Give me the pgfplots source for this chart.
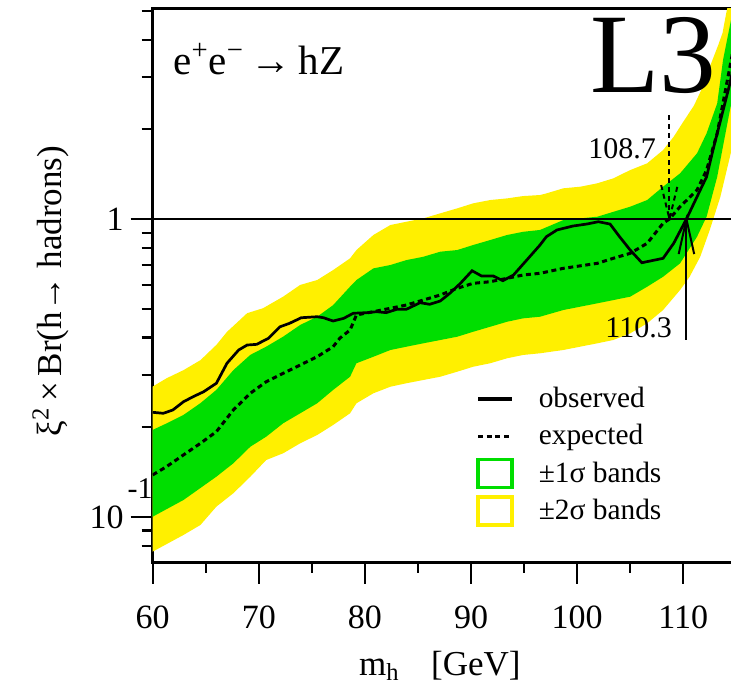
\documentclass[border=0pt]{standalone}
\usepackage{fontspec}
\setmainfont{Liberation Serif}
\usepackage{pgfplots}
\pgfplotsset{compat=1.18}
\usepgfplotslibrary{fillbetween}

\definecolor{bandgreen}{RGB}{0,222,0}
\definecolor{bandyellow}{RGB}{255,240,0}

% 95% CL upper limit on xi^2 x Br(h -> hadrons), L3
\pgfplotstableread{
x y
60.0 0.274
61.3 0.292
62.9 0.311
64.5 0.336
66.0 0.378
67.0 0.418
68.9 0.483
70.4 0.502
72.3 0.549
73.9 0.601
75.5 0.624
77.0 0.674
78.6 0.738
79.2 0.787
80.8 0.884
82.4 0.955
83.9 0.979
85.5 1.005
87.1 1.045
88.7 1.086
90.2 1.129
91.8 1.158
93.4 1.173
94.9 1.194
96.5 1.204
97.1 1.219
98.7 1.268
100.3 1.284
101.9 1.318
103.4 1.369
105.0 1.460
106.6 1.538
108.1 1.704
109.1 1.889
110.0 2.12
111.0 2.40
111.7 2.71
112.5 3.24
113.3 3.84
113.7 4.21
114.05 4.91
115.0 7.0
}\twoup

\pgfplotstableread{
x y
60.0 0.196
61.3 0.206
62.9 0.220
64.5 0.241
66.0 0.267
67.6 0.311
69.2 0.350
70.7 0.373
72.3 0.403
73.9 0.441
75.5 0.470
77.0 0.514
78.6 0.593
79.2 0.624
80.8 0.683
82.4 0.701
83.9 0.728
85.5 0.747
87.1 0.777
88.7 0.787
90.2 0.818
91.8 0.850
93.4 0.884
94.9 0.906
96.5 0.919
98.7 0.992
101.9 1.018
105.0 1.100
106.6 1.158
108.1 1.284
109.7 1.423
111.3 1.662
112.2 1.940
113.2 2.445
113.75 3.417
114.5 4.654
115.0 6.0
}\oneup

\pgfplotstableread{
x y
60.0 0.1002
62.9 0.1140
66.0 0.1365
67.6 0.1514
69.2 0.1721
70.7 0.1860
72.3 0.2063
73.9 0.2228
75.5 0.2407
77.0 0.2668
78.6 0.2956
79.2 0.3280
80.8 0.3450
82.4 0.3634
83.9 0.3727
85.5 0.3827
87.1 0.3926
88.7 0.4027
90.2 0.4184
91.8 0.4349
93.4 0.4521
94.9 0.4641
96.5 0.4700
98.7 0.4950
101.9 0.5213
105.0 0.5487
106.6 0.5927
108.1 0.640
109.7 0.7101
111.3 0.8722
112.2 1.018
113.2 1.386
113.8 1.795
114.4 2.322
115.0 2.9
}\onedown

\pgfplotstableread{
x y
60.0 0.0765
62.9 0.0870
64.5 0.0940
66.0 0.1083
67.6 0.1201
69.2 0.1365
70.7 0.1553
72.3 0.1636
73.9 0.1767
75.5 0.1884
77.0 0.2035
78.6 0.2228
79.2 0.2407
80.8 0.2601
82.4 0.2736
83.9 0.2810
85.5 0.2882
87.1 0.2956
88.7 0.3073
90.2 0.3193
91.8 0.3280
93.4 0.3409
94.9 0.3497
96.5 0.3543
98.7 0.3634
101.9 0.3827
103.4 0.3926
105.0 0.4133
106.6 0.4467
108.1 0.4950
109.7 0.5777
110.6 0.640
111.6 0.7472
112.5 0.919
113.5 1.188
114.1 1.460
114.4 1.618
115.0 2.0
}\twodown

\pgfplotstableread{
x y
60.0 0.1384
61.3 0.1475
62.9 0.1615
64.5 0.1767
66.0 0.1933
67.6 0.2286
69.2 0.2601
70.7 0.2844
72.3 0.3035
73.9 0.3236
75.5 0.3450
77.0 0.3727
77.65 0.3987
78.6 0.4240
79.2 0.4764
80.8 0.4886
82.4 0.5016
83.9 0.5144
85.5 0.5347
87.1 0.5559
88.7 0.5854
90.2 0.6084
91.8 0.6160
93.4 0.6324
94.9 0.6488
96.5 0.6574
98.7 0.6832
101.9 0.7101
103.4 0.7382
105.0 0.7673
106.6 0.8290
108.1 0.9674
108.7 1.0
109.7 1.100
111.3 1.251
112.2 1.460
113.2 1.940
113.8 2.507
114.4 3.244
115.0 4.2
}\expected

\pgfplotstableread{
x y
60.0 0.2245
61.0 0.2228
61.9 0.2286
62.9 0.2436
63.8 0.2532
64.8 0.2632
66.0 0.2810
67.0 0.3280
68.1 0.3634
68.9 0.3777
69.8 0.3797
70.9 0.3978
72.0 0.4349
72.9 0.4467
74.0 0.4663
75.5 0.4700
76.1 0.4663
77.0 0.4547
78.0 0.4641
78.6 0.4764
78.9 0.4827
80.2 0.4850
81.1 0.4886
82.0 0.4850
83.0 0.4977
83.9 0.4977
85.2 0.5238
86.1 0.5174
87.1 0.5307
88.0 0.5632
89.0 0.6084
90.1 0.6705
91.0 0.6437
92.1 0.6437
93.0 0.6208
94.0 0.6488
95.25 0.7283
96.5 0.818
97.1 0.8722
98.1 0.919
99.6 0.9473
100.9 0.9620
102.0 0.9793
103.1 0.9620
104.0 0.8722
105.0 0.787
106.1 0.7135
108.1 0.7382
109.1 0.8290
110.3 1.0
111.3 1.188
112.2 1.386
112.8 1.704
113.6 2.204
114.4 2.854
115.0 3.6
}\observed

\begin{document}
\begin{tikzpicture}
\begin{axis}[
  scale only axis,
  width=291.8pt, height=276.5pt,
  xmin=60, xmax=115,
  ymode=log, ymin=0.0706, ymax=5.07,
  axis line style={line width=1.5pt},
  every tick/.style={black, line width=1.1pt},
  tick align=outside,
  tick pos=left,
  major tick length=11pt,
  minor tick length=5.5pt,
  xtick={60,70,...,110},
  minor xtick={65,75,...,105},
  ytick={0.1,1},
  minor ytick={0.07,0.08,0.09,0.2,0.3,0.4,0.5,0.6,0.7,0.8,0.9,2,3,4,5},
  yticklabels={10\rlap{\hspace{2pt}\smash{\raisebox{15pt}{\fontsize{15}{15}\selectfont -1}}},1},
  /pgf/number format/assume math mode=true,
  tick label style={font=\fontsize{17}{20}\selectfont},
  xticklabel style={yshift=-7.5pt},
  xlabel={m\textsubscript{h}\hspace{0.9em}[GeV]},
  ylabel={ξ\textsuperscript{2}\,×\,Br(h→ hadrons)},
  every axis x label/.style={at={(axis description cs:0.492,-0.205)}, anchor=base,
    font=\fontsize{17.5}{20}\selectfont},
  every axis y label/.style={at={(axis description cs:-0.175,0.49)}, rotate=90, anchor=center,
    font=\fontsize{17.5}{20}\selectfont},
  legend style={draw=none, fill=none, at={(axis cs:89.9,0.291)}, anchor=north west,
    font=\fontsize{14.7}{17}\selectfont, row sep=3pt,
    /tikz/every odd column/.append style={column sep=10.5pt}},
  legend cell align=left,
]
% +-2 sigma and +-1 sigma bands around the expected limit
\addplot[draw=none, name path=yu, forget plot] table {\twoup};
\addplot[draw=none, name path=yl, forget plot] table {\twodown};
\addplot[bandyellow, forget plot] fill between[of=yu and yl];
\addplot[draw=none, name path=gu, forget plot] table {\oneup};
\addplot[draw=none, name path=gl, forget plot] table {\onedown};
\addplot[bandgreen, forget plot] fill between[of=gu and gl];

% reference line at 1
\addplot[black, line width=1pt, forget plot] coordinates {(60,1) (115,1)};

% expected and observed limits
\addplot[black, line width=1.5pt, dash pattern=on 2.5pt off 1.8pt, forget plot] table {\expected};
\addplot[black, line width=1.35pt, forget plot] table {\observed};

% mass limits: expected 108.7 GeV, observed 110.3 GeV
\addplot[black, line width=1pt, dash pattern=on 2.5pt off 2pt, forget plot]
  coordinates {(108.7,2.234) (108.7,1.0)};
\addplot[black, line width=1pt, dash pattern=on 2.5pt off 2pt, forget plot]
  coordinates {(107.92,1.30) (108.7,1.0) (109.48,1.30)};
\addplot[black, line width=1pt, forget plot]
  coordinates {(110.3,0.393) (110.3,1.0)};
\addplot[black, line width=1pt, forget plot]
  coordinates {(109.57,0.763) (110.3,1.0) (111.03,0.763)};

\node[anchor=base west, inner sep=0pt, font=\fontsize{15}{18}\selectfont] at (axis cs:101.03,1.602) {108.7};
\node[anchor=base west, inner sep=0pt, font=\fontsize{15}{18}\selectfont] at (axis cs:102.63,0.4018) {110.3};
\node[anchor=base west, inner sep=0pt, font=\fontsize{56.7}{60}\selectfont] at (axis cs:101.21,2.668) {L3};
\node[anchor=base west, inner sep=0pt, font=\fontsize{20.5}{24}\selectfont] at (axis cs:61.91,3.066)
  {e\textsuperscript{+}e\textsuperscript{−}\,→\,hZ};

% legend
\addlegendimage{legend image code/.code={\draw[black, line width=1.7pt] (0pt,0pt) -- (17pt,0pt);}}
\addlegendentry{observed}
\addlegendimage{legend image code/.code={\draw[black, line width=1.5pt, dash pattern=on 2.5pt off 1.8pt] (0pt,0pt) -- (17pt,0pt);}}
\addlegendentry{expected}
\addlegendimage{legend image code/.code={\draw[bandgreen, line width=1.6pt] (0pt,-7pt) rectangle (17pt,7pt);}}
\addlegendentry{±1σ bands}
\addlegendimage{legend image code/.code={\draw[bandyellow, line width=1.6pt] (0pt,-7pt) rectangle (17pt,7pt);}}
\addlegendentry{±2σ bands}
\end{axis}
\pgfresetboundingbox
\useasboundingbox (-76.35pt,-67pt) rectangle (289.15pt,281pt);
\end{tikzpicture}
\end{document}
